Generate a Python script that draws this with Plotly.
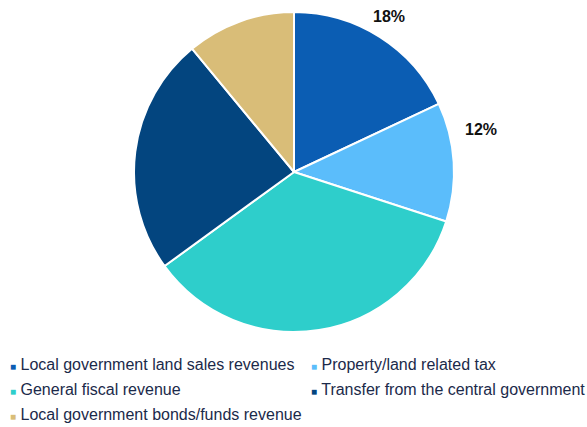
import plotly.graph_objects as go

# Revenue composition (share of total, %)
categories = [
    "Local government land sales revenues",
    "Property/land related tax",
    "General fiscal revenue",
    "Transfer from the central government",
    "Local government bonds/funds revenue",
]
shares = [18, 12, 35, 24, 11]
show_label = [True, True, False, False, False]
colors = ["#0B5DB3", "#5BBDFB", "#2ECECB", "#03457F", "#D9BD78"]

# Pixel placement of the value labels that are shown (label index -> x, y)
label_pos = {0: (389, 16), 1: (481, 130)}

W, H = 587, 427
BOTTOM = 85                      # space reserved under the pie for the legend
PH = H - BOTTOM                  # plot-area height
FONT = "Arial, Liberation Sans, sans-serif"

fig = go.Figure()

fig.add_trace(go.Pie(
    labels=categories,
    values=shares,
    sort=False,
    direction="clockwise",
    rotation=0,
    marker=dict(colors=colors, line=dict(color="white", width=2)),
    textinfo="none",
    showlegend=False,
    hoverinfo="label+percent",
    domain=dict(x=[134 / W, 454 / W], y=[1 - 332 / PH, 1 - 12 / PH]),
))

# Value labels for the highlighted slices
for i, (v, s) in enumerate(zip(shares, show_label)):
    if not s:
        continue
    px, py = label_pos[i]
    fig.add_annotation(
        x=px / W, y=1 - py / PH, xref="paper", yref="paper",
        text=f"<b>{v}%</b>", showarrow=False,
        xanchor="center", yanchor="middle",
        font=dict(family=FONT, size=16, color="#111111"),
    )

# Legend entries in two columns (even index -> left column, odd -> right):
# a small coloured square drawn inline with the text
for i, (name, col) in enumerate(zip(categories, colors)):
    fig.add_trace(go.Scatter(
        x=[None], y=[None], mode="markers",
        marker=dict(size=1, color="rgba(0,0,0,0)"),
        name=(f'<span style="color:{col};font-size:10px">■</span>'
              f'<span style="font-size:16px"> {name}</span>'),
        showlegend=True,
        legend="legend" if i % 2 == 0 else "legend2",
    ))

legend_style = dict(
    orientation="v",
    xanchor="left",
    y=-(346 - PH) / PH, yanchor="top",
    font=dict(family=FONT, size=17, color="#1B2A4A"),
    bgcolor="rgba(0,0,0,0)",
    traceorder="normal",
)

fig.update_layout(
    width=W, height=H,
    margin=dict(l=0, r=0, t=0, b=BOTTOM, autoexpand=False),
    paper_bgcolor="white", plot_bgcolor="white",
    xaxis=dict(visible=False), yaxis=dict(visible=False),
    legend=dict(x=-30 / W, **legend_style),
    legend2=dict(x=271 / W, **legend_style),
)

fig.write_html("out.html")
